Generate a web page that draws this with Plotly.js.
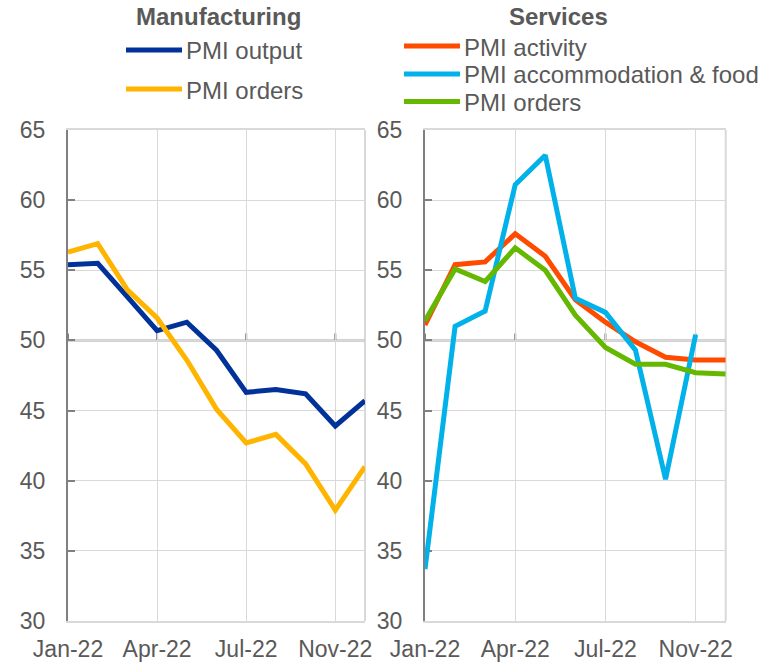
<!DOCTYPE html>
<html><head><meta charset="utf-8">
<script src="https://cdn.plot.ly/plotly-3.0.1.min.js"></script>
<style>html,body{margin:0;padding:0;background:#fff}#chart{width:781px;height:665px}</style>
</head><body><div id="chart"></div>
<script>
// ---- data ----
const months = ["Jan-22","Feb-22","Mar-22","Apr-22","May-22","Jun-22","Jul-22","Aug-22","Sep-22","Nov-22","Dec-22"];
const tickLabels = ["Jan-22","Apr-22","Jul-22","Nov-22"];
const mfgOutput = [55.4, 55.5, 53.1, 50.7, 51.3, 49.3, 46.3, 46.5, 46.2, 43.9, 45.7];
const mfgOrders = [56.3, 56.9, 53.6, 51.6, 48.6, 45.1, 42.7, 43.3, 41.2, 37.9, 41.0];
const svcActivity = [51.1, 55.4, 55.6, 57.6, 56.0, 52.9, 51.3, 49.9, 48.8, 48.6, 48.6];
const svcAccommodation = [33.7, 51.0, 52.1, 61.1, 63.2, 53.0, 52.0, 49.3, 40.1, 50.4, null];
const svcOrders = [51.4, 55.1, 54.2, 56.6, 55.0, 51.8, 49.5, 48.3, 48.3, 47.7, 47.6];
const panelTitles = ["Manufacturing", "Services"];

// ---- styling ----
const FONT = "Liberation Sans, Arial, sans-serif";
const GRAY = "#595959";
const GRID = "#d9d9d9";
const yRange = [30, 65];
const yDom = [0.0662, 0.8045];
const crossY = 50;
const xRange = [0, months.length - 1];
const W = 781, H = 665;

function line(name, y, color, xa, ya) {
  return {x: months, y: y, name: name, type: 'scatter', mode: 'lines', xaxis: xa, yaxis: ya,
    showlegend: false, line: {color: color, width: 5}, hoverinfo: 'skip', connectgaps: false};
}
const traces = [
  line("PMI output", mfgOutput, "#003299", 'x', 'y'),
  line("PMI orders", mfgOrders, "#FFB400", 'x', 'y'),
  line("PMI activity", svcActivity, "#FF4B00", 'x2', 'y2'),
  line("PMI accommodation & food", svcAccommodation, "#00B1EA", 'x2', 'y2'),
  line("PMI orders", svcOrders, "#65B800", 'x2', 'y2')
];

function xBase(domain, anchor) {
  return {domain: domain, anchor: anchor, type: 'category', categoryorder: 'array', categoryarray: months,
    range: xRange, tickmode: 'array', tickvals: tickLabels, ticktext: tickLabels,
    showgrid: true, gridcolor: GRID, gridwidth: 1, showline: true, linecolor: GRID, linewidth: 2, mirror: true,
    ticks: '', tickfont: {family: FONT, size: 23, color: GRAY}, ticklabelstandoff: 6,
    zeroline: false, fixedrange: true, layer: 'below traces'};
}
function yBase(anchor) {
  return {domain: yDom, anchor: anchor, range: yRange, tick0: 30, dtick: 5, showgrid: true, gridcolor: GRID,
    gridwidth: 1, showline: true, linecolor: '#808080', linewidth: 2, ticks: 'inside', ticklen: 7,
    tickwidth: 2, tickcolor: '#808080', zeroline: false, tickfont: {family: FONT, size: 23, color: GRAY},
    ticklabelstandoff: 16, fixedrange: true, layer: 'below traces'};
}
const xd1 = [68 / W, 365 / W], xd2 = [425 / W, 725.7 / W];

const shapes = [], annotations = [];
// axis decorations per panel: right border, crossing axis at 50 with its tick marks
[['x', 'y'], ['x2', 'y2']].forEach(([xa, ya]) => {
  shapes.push({type: 'line', xref: xa + ' domain', yref: ya + ' domain', x0: 1, x1: 1, y0: 0, y1: 1,
    line: {color: GRID, width: 2}, layer: 'below'});
  shapes.push({type: 'line', xref: xa + ' domain', yref: ya, x0: 0, x1: 1, y0: crossY, y1: crossY,
    line: {color: '#a6a6a6', width: 2}, layer: 'below'});
  tickLabels.forEach(t => {
    const i = months.indexOf(t);
    shapes.push({type: 'line', xref: xa, yref: ya, ysizemode: 'pixel', yanchor: crossY,
      x0: i, x1: i, y0: 0, y1: 7, line: {color: '#808080', width: 2}, layer: 'below'});
  });
});

// legends (drawn as keyed rows)
const legendSpec = [
  {title: panelTitles[0], titleX: 218, lineX: 126, rows: [50, 89], traces: [0, 1]},
  {title: panelTitles[1], titleX: 558, lineX: 404, rows: [46, 74, 101.5], traces: [2, 3, 4]}
];
legendSpec.forEach(spec => {
  annotations.push({text: "<b>" + spec.title + "</b>", xref: 'paper', yref: 'paper', x: spec.titleX / W,
    y: 1 - 16 / H, xanchor: 'center', yanchor: 'middle', showarrow: false,
    font: {family: FONT, size: 24, color: GRAY}});
  spec.traces.forEach((ti, k) => {
    const yy = spec.rows[k];
    shapes.push({type: 'line', xref: 'paper', yref: 'paper', x0: spec.lineX / W, x1: (spec.lineX + 56) / W,
      y0: 1 - yy / H, y1: 1 - yy / H, line: {color: traces[ti].line.color, width: 5}});
    annotations.push({text: traces[ti].name, xref: 'paper', yref: 'paper', x: (spec.lineX + 58) / W,
      y: 1 - (yy + 1) / H, xanchor: 'left', yanchor: 'middle', showarrow: false,
      font: {family: FONT, size: 24, color: GRAY}});
  });
});

const layout = {
  width: W, height: H, margin: {l: 0, r: 0, t: 0, b: 0}, paper_bgcolor: '#fff', plot_bgcolor: '#fff',
  font: {family: FONT, color: GRAY}, showlegend: false,
  xaxis: xBase(xd1, 'y'), yaxis: yBase('x'),
  xaxis2: xBase(xd2, 'y2'), yaxis2: yBase('x2'),
  annotations: annotations, shapes: shapes
};
Plotly.newPlot('chart', traces, layout, {staticPlot: true, displayModeBar: false});
</script>
</body></html>
